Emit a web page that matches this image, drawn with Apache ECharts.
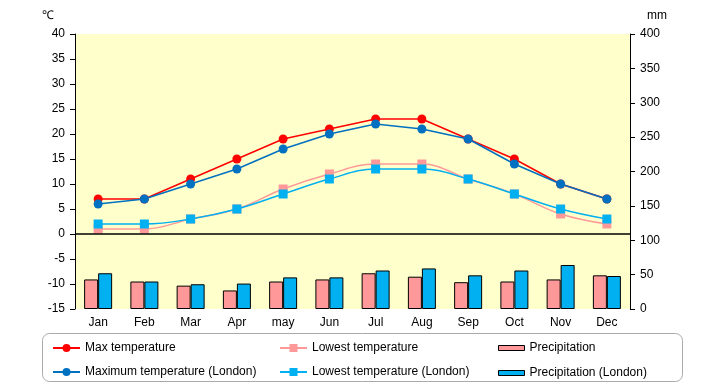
<!DOCTYPE html>
<html><head><meta charset="utf-8">
<script src="https://cdn.jsdelivr.net/npm/echarts@6/dist/echarts.min.js"></script>
<style>html,body{margin:0;padding:0;background:#fff}#c{width:720px;height:385px}</style>
</head><body><div id="c"></div>
<script>
var months = ['Jan','Feb','Mar','Apr','may','Jun','Jul','Aug','Sep','Oct','Nov','Dec'];
var maxTemp = [7,7,11,15,19,21,23,23,19,15,10,7];
var lowTemp = [1,1,3,5,9,12,14,14,11,8,4,2];
var maxTempLondon = [6,7,10,13,17,20,22,21,19,14,10,7];
var lowTempLondon = [2,2,3,5,8,11,13,13,11,8,5,3];
var precip = [43,40,34,27,40,43,52,47,39,40,43,49];
var precipLondon = [52,40,36,37,46,46,56,59,49,56,64,48];

var FONT = 'Liberation Sans';
var chart = echarts.init(document.getElementById('c'), null, {renderer:'canvas'});
var legendText = {fontFamily: FONT, fontSize: 12, color: '#000'};
function lg(name, left, top, h, barColor) {
  var item = {name: name};
  if (barColor) {
    item.icon = 'rect';
    item.itemStyle = {color: barColor, borderColor: '#000', borderWidth: 1};
  }
  return {left: left, top: top, padding: 0, itemWidth: barColor ? 26 : 27, itemHeight: h || 10, itemGap: 2,
          textStyle: legendText, data: [item], selectedMode: false};
}
chart.setOption({
  animation: false,
  textStyle: {fontFamily: FONT},
  grid: {left: 75, right: 90, top: 34, bottom: 76, show: true, backgroundColor: '#FFFFCC', borderWidth: 0, containLabel: false},
  graphic: [
    {type:'rect', shape:{x:42.5, y:333.5, width:640, height:48, r:7}, style:{fill:'#fff', stroke:'#aaaaaa', lineWidth:1}, z:-1},
    {type:'text', left: 42, top: 10, style:{text:'℃', font:'12px ' + FONT, fill:'#000'}},
    {type:'text', left: 647, top: 10, style:{text:'mm', font:'12px ' + FONT, fill:'#000'}}
  ],
  legend: [
    lg('Max temperature', 52, 342),
    lg('Maximum temperature (London)', 52, 366),
    lg('Lowest temperature', 279, 342),
    lg('Lowest temperature (London)', 279, 366),
    lg('Precipitation', 498, 342, 5, '#FF9999'),
    lg('Precipitation (London)', 498, 367, 5, '#00B0F0')
  ],
  xAxis: {
    type: 'category', data: months, position: 'bottom',
    axisLine: {show: false, onZero: false}, axisTick: {show: false},
    axisLabel: {color:'#000', fontSize: 12, margin: 8}
  },
  yAxis: [
    {type:'value', min:-15, max:40, interval:5, position:'left',
     axisLine:{show:true, lineStyle:{color:'#000'}}, axisTick:{show:true, length:5, lineStyle:{color:'#000'}},
     axisLabel:{color:'#000', fontSize:12, margin: 10}, splitLine:{show:false}},
    {type:'value', min:0, max:400, interval:50, position:'right', alignTicks:false,
     axisLine:{show:true, lineStyle:{color:'#000'}}, axisTick:{show:true, length:5, lineStyle:{color:'#000'}},
     axisLabel:{color:'#000', fontSize:12, margin: 10}, splitLine:{show:false}}
  ],
  series: [
    {name:'Precipitation', type:'bar', yAxisIndex:1, data: precip, barWidth: 14, barGap: '0%',
     itemStyle:{color:'#FF9999', borderColor:'#000', borderWidth:1}, z:1},
    {name:'Precipitation (London)', type:'bar', yAxisIndex:1, data: precipLondon, barWidth: 14, barGap: '0%',
     itemStyle:{color:'#00B0F0', borderColor:'#000', borderWidth:1}, z:1},
    {name:'Lowest temperature', type:'line', yAxisIndex:0, data: lowTemp, smooth: 0.4,
     symbol:'rect', symbolSize: 9, lineStyle:{color:'#FF9999', width:1.5}, itemStyle:{color:'#FF9999'}, z:3,
     markLine:{silent:true, symbol:'none', label:{show:false}, lineStyle:{color:'#000', type:'solid', width:1.5},
       data:[{yAxis: 0}]}},
    {name:'Lowest temperature (London)', type:'line', yAxisIndex:0, data: lowTempLondon, smooth: 0.4,
     symbol:'rect', symbolSize: 9, lineStyle:{color:'#00B0F0', width:1.5}, itemStyle:{color:'#00B0F0'}, z:4},
    {name:'Max temperature', type:'line', yAxisIndex:0, data: maxTemp,
     symbol:'circle', symbolSize: 9, lineStyle:{color:'#FF0000', width:1.5}, itemStyle:{color:'#FF0000'}, z:5},
    {name:'Maximum temperature (London)', type:'line', yAxisIndex:0, data: maxTempLondon,
     symbol:'circle', symbolSize: 9, lineStyle:{color:'#0070C0', width:1.5}, itemStyle:{color:'#0070C0'}, z:6}
  ]
});
</script></body></html>
